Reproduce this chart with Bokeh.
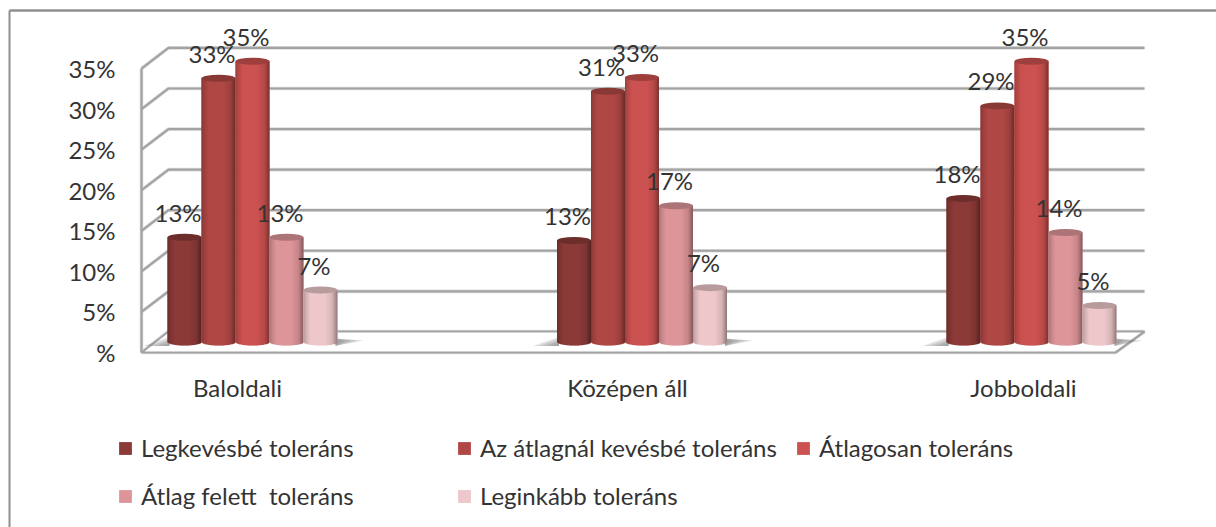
import numpy as np
from bokeh.plotting import figure
from bokeh.models import (ColumnDataSource, Range1d, LinearAxis, FixedTicker, Legend, LegendItem)
from bokeh.core.properties import value
from bokeh.embed import file_html
from bokeh.resources import INLINE

categories = ["Baloldali", "Középen áll", "Jobboldali"]
series_names = ["Legkevésbé toleráns", "Az átlagnál kevésbé toleráns", "Átlagosan toleráns",
                "Átlag felett  toleráns", "Leginkább toleráns"]
legkevesbe = [12.9, 12.5, 17.7]
atlag_alatt = [32.5, 30.9, 29.1]
atlagos = [34.6, 32.6, 34.6]
atlag_felett = [12.9, 16.8, 13.5]
leginkabb = [6.4, 6.7, 4.5]
label_texts = [["13%", "13%", "18%"], ["33%", "31%", "29%"], ["35%", "33%", "35%"],
               ["13%", "17%", "14%"], ["7%", "7%", "5%"]]
colors = ["#8B3A38", "#AF4845", "#CB5250", "#DD9599", "#EDC7C9"]
y_ticks = [0, 5, 10, 15, 20, 25, 30, 35]
y_tick_labels = ["%", "5%", "10%", "15%", "20%", "25%", "30%", "35%"]
all_series = [legkevesbe, atlag_alatt, atlagos, atlag_felett, leginkabb]

FONT = "Lato"
TXT = "#333333"
PXY = 8.114
PXX = 389.5
X0 = 252.0
Y0 = 352.0


def ux(px):
    return (np.asarray(px, dtype=float) - X0) / PXX


def uy(py):
    return (Y0 - np.asarray(py, dtype=float)) / PXY


W, H = 1216, 527
p = figure(width=W, height=H, output_backend="svg", toolbar_location=None,
           x_range=Range1d(float(ux(0)), float(ux(W))),
           y_range=Range1d(float(uy(H)), float(uy(0))),
           min_border=0, outline_line_color=None, x_axis_type=None, y_axis_type=None)
p.grid.visible = False
p.background_fill_color = "white"

# outer chart border
p.line(ux([9, 9]), uy([10, 527]), line_color="#8f8f8f", line_width=2)
p.line(ux([9, 1216]), uy([10, 10]), line_color="#8f8f8f", line_width=2.5)

# back wall and floor
FX, BX, RX, FRX = 141, 168, 1144, 1115
for lw, col in ((3.6, "#dcdcdc"), (2.2, "#a3a3a3")):
    xs, ys = [], []
    for t in y_ticks[1:]:
        yf = Y0 - t * PXY
        xs.append(ux([FX, BX, RX]))
        ys.append(uy([yf, yf - 20.6, yf - 20.6]))
    p.multi_line(xs, ys, line_color=col, line_width=lw)
    p.line(ux([FX, FX]), uy([Y0 - 35 * PXY, Y0]), line_color=col, line_width=lw)
    p.patch(ux([FX, BX, RX, FRX]), uy([352, 331, 331, 352]), fill_color="white",
            line_color=col, line_width=lw)

# bars
n_series = len(all_series)
bar_w = 34.0
ell_h = 7.0
base_py = 341.5
starts = [167.0, 556.5, 946.0]
profile_t = [0, .06, .2, .65, .85, 1]
profile_v = [.76, .87, 1, 1, .9, .6]


def shade(col, f):
    rgb = [int(col[i:i + 2], 16) for i in (1, 3, 5)]
    return "#%02x%02x%02x" % tuple(int(min(255, c * f)) for c in rgb)


# floor shadows
for s in starts:
    L, R = s, s + n_series * bar_w
    for k in (1.0, .75, .5, .25):
        p.patch(ux([L - 24 * k, L + 2, L + 2]), uy([345.5, 345.5 - 9 * k, 345.5]),
                fill_color="#6f6f6f", fill_alpha=.22, line_color=None)
        p.patch(ux([R - 2, R + 26 * k, R - 2]), uy([338, 340, 345.5]),
                fill_color="#6f6f6f", fill_alpha=.22, line_color=None)

legend_items = []
for si, vals in enumerate(all_series):
    vals = np.array(vals, dtype=float)
    lefts = np.array([s + si * bar_w for s in starts])
    body = ColumnDataSource(dict(left=ux(lefts), right=ux(lefts + bar_w),
                                 bottom=np.full(3, float(uy(base_py))),
                                 top=uy(base_py) + vals))
    r = p.quad(left="left", right="right", bottom="bottom", top="top", source=body,
               fill_color=colors[si], line_color=None)
    legend_items.append(LegendItem(label=series_names[si], renderers=[r]))
    sl, sr, sb, st, sc = [], [], [], [], []
    for g in range(3):
        for i in range(int(bar_w)):
            t = (i + .5) / bar_w
            sl.append(float(ux(lefts[g] + i)))
            sr.append(float(ux(lefts[g] + i + 1.5 if i < bar_w - 1 else lefts[g] + i + 1)))
            sb.append(float(uy(base_py + ell_h / 2 * np.sqrt(1 - (2 * t - 1) ** 2))))
            st.append(float(uy(base_py)) + vals[g])
            sc.append(shade(colors[si], float(np.interp(t, profile_t, profile_v))))
    p.quad(left=sl, right=sr, bottom=sb, top=st, fill_color=sc, line_color=None)
    p.ellipse(x=ux(lefts + bar_w / 2), y=uy(base_py) + vals, width=bar_w / PXX,
              height=ell_h / PXY, angle=0.0, fill_color=shade(colors[si], .78), line_color=None)

# data labels
lx, ly, lt = [], [], []
for si, vals in enumerate(all_series):
    for g, v in enumerate(vals):
        lx.append(float(ux(starts[g] + si * bar_w + bar_w / 2 - 6.5)))
        ly.append(float(uy(base_py - 25)) + v)
        lt.append(label_texts[si][g])
p.text(x=lx, y=ly, text=lt, text_align="center", text_baseline="middle",
       text_font=value(FONT), text_font_size="24px", text_color=TXT)

# axes placed in the frame
yax = LinearAxis(fixed_location=float(ux(FX)), ticker=FixedTicker(ticks=y_ticks),
                 major_label_overrides=dict(zip(y_ticks, y_tick_labels)),
                 axis_line_color=None, major_tick_line_color=None, minor_tick_line_color=None,
                 major_tick_in=0, major_tick_out=0, major_label_standoff=26,
                 major_label_text_font=FONT, major_label_text_font_size="24px",
                 major_label_text_color=TXT)
p.add_layout(yax, "left")

cat_ticks = [float(ux(237)), float(ux(627)), float(ux(1023))]
xax = LinearAxis(fixed_location=float(uy(352)), ticker=FixedTicker(ticks=cat_ticks),
                 major_label_overrides=dict(zip(cat_ticks, categories)),
                 axis_line_color=None, major_tick_line_color=None, minor_tick_line_color=None,
                 major_tick_in=0, major_tick_out=0, major_label_standoff=20,
                 major_label_text_font=FONT, major_label_text_font_size="24px",
                 major_label_text_color=TXT)
p.add_layout(xax, "below")

legend = Legend(items=legend_items, ncols=3, location=(117, 13), orientation="horizontal",
                glyph_width=16, glyph_height=16, label_standoff=8, spacing=11, margin=0, padding=0,
                border_line_color=None, background_fill_alpha=0, label_text_font=FONT,
                label_text_font_size="24px", label_text_color=TXT, label_width=304, label_height=37)
p.add_layout(legend, "center")

open("out.html", "w").write(file_html(p, INLINE))
